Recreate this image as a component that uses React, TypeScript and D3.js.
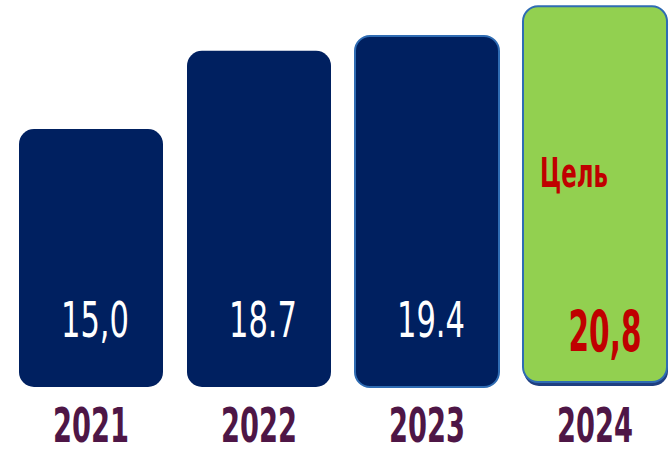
import React, { useLayoutEffect, useRef, useState } from 'react';
import * as d3 from 'd3';

// chart data
const years = ['2021', '2022', '2023', '2024'];
const values = [15.0, 18.7, 19.4, 20.8];
const valueLabels = ['15,0', '18.7', '19.4', '20,8'];
const targetYear = '2024';
const targetLabel = 'Цель';

const width = 671;
const height = 454;
const baseY = 387;

const NAVY = '#002060';
const GREEN = '#92D050';
const RED = '#C00000';
const PURPLE = '#4E1646';
const EDGE = '#2F6CB3';

const FONT = '"DejaVu Sans Condensed", "DejaVu Sans", sans-serif';

// squeezes a text horizontally to a given width (slide uses a very narrow font)
function NarrowText({ x, y, w, children, ...rest }: any) {
  const ref = useRef<SVGTextElement>(null);
  const [k, setK] = useState(0.6);
  useLayoutEffect(() => {
    if (!ref.current) return;
    const len = ref.current.getComputedTextLength();
    if (len > 0) setK(w / len);
  }, [w, children]);
  return (
    <text
      ref={ref}
      transform={`translate(${x},${y}) scale(${k},1)`}
      textAnchor="middle"
      fontFamily={FONT}
      {...rest}
    >
      {children}
    </text>
  );
}

export default function App() {
  const x = d3
    .scaleBand<string>()
    .domain(years)
    .range([7, 679])
    .paddingInner(1 / 7)
    .paddingOuter(1 / 14);

  // bars do not start at zero in the original slide
  const y = d3.scaleLinear().domain([2.8, 21.1]).range([baseY, 0]);

  const bw = x.bandwidth();

  return (
    <svg
      width={width}
      height={height}
      style={{ position: 'absolute', left: 0, top: 0, background: '#fff' }}
    >
      {years.map((yr, i) => {
        const x0 = x(yr) ?? 0;
        const top = y(values[i]);
        const cx = x0 + bw / 2;
        const isTarget = yr === targetYear;
        const outlined = i >= 2;
        return (
          <g key={yr}>
            {isTarget && (
              <rect
                x={x0 + 1}
                y={top + 3}
                width={bw}
                height={baseY - top - 4}
                rx={15}
                fill="#1F3F80"
              />
            )}
            <rect
              x={x0}
              y={top}
              width={bw}
              height={baseY - top - (isTarget ? 5 : 0)}
              rx={15}
              fill={isTarget ? GREEN : NAVY}
              stroke={outlined ? EDGE : 'none'}
              strokeWidth={outlined ? 2 : 0}
            />
            {isTarget && (
              <NarrowText x={cx - 21} y={187} w={68} fill={RED} fontSize={41} fontWeight="bold">
                {targetLabel}
              </NarrowText>
            )}
            <NarrowText
              x={cx + (isTarget ? 10 : 4)}
              y={isTarget ? 352 : baseY - 50}
              w={isTarget ? 73 : 68}
              fill={isTarget ? RED : '#fff'}
              fontSize={isTarget ? 57 : 50}
              fontWeight={isTarget ? 'bold' : 'normal'}
            >
              {valueLabels[i]}
            </NarrowText>
            <NarrowText x={cx} y={442} w={76} fill={PURPLE} fontSize={48} fontWeight="bold">
              {yr}
            </NarrowText>
          </g>
        );
      })}
    </svg>
  );
}
